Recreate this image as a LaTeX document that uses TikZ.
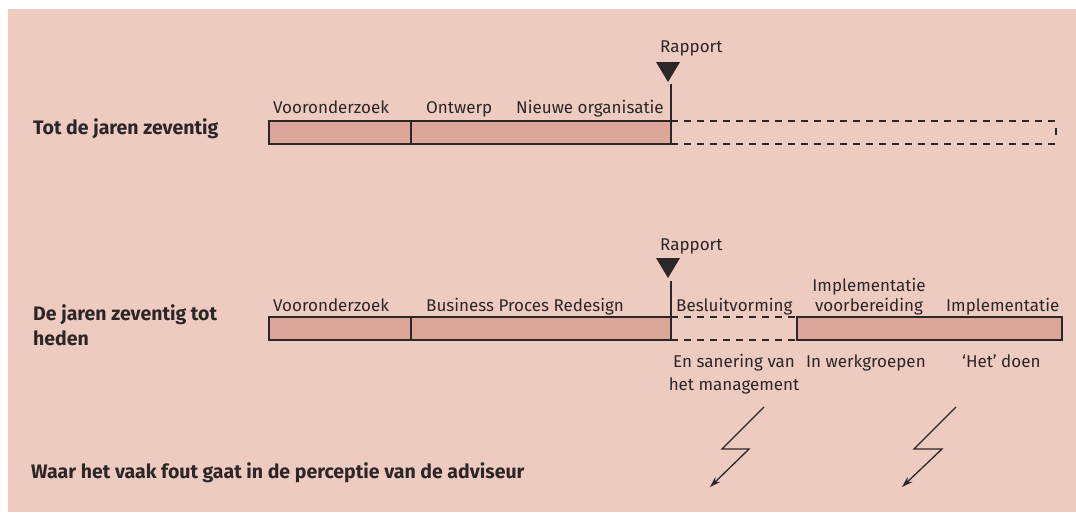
\documentclass[tikz,border=0pt]{standalone}
\usepackage{fontspec}
\setmainfont{Fira Sans}
\usetikzlibrary{arrows.meta}
\definecolor{bgpink}{RGB}{237,203,193}
\definecolor{barfill}{RGB}{220,166,155}
\definecolor{ink}{RGB}{45,38,38}
\begin{document}
\begin{tikzpicture}[x=1pt,y=-1pt,
  lbl/.style={anchor=base west, inner sep=0pt, text=ink, font=\fontsize{17}{22}\selectfont},
  clbl/.style={anchor=base, inner sep=0pt, text=ink, font=\fontsize{17}{22}\selectfont},
  head/.style={anchor=base west, inner sep=0pt, text=ink, font=\fontsize{19.5}{25}\selectfont\bfseries},
  seg/.style={draw=ink, line width=1.6pt, fill=barfill},
  dline/.style={draw=ink, line width=1.6pt, dash pattern=on 7pt off 6pt},
  rapline/.style={draw=ink, line width=1.6pt},
  raptri/.style={fill=ink},
  bolt/.style={draw=ink, line width=1.3pt, line join=miter, -{Stealth[length=11pt,width=7pt]}},
]
\useasboundingbox (0,0) rectangle (1076,520);
\fill[bgpink] (8,9) rectangle (1076,512);

% ---------- Row 1 ----------
\node[head] (h1) at (33,134.3) {Tot de jaren zeventig};
\draw[seg] (269,121) rectangle (411,144);
\draw[seg] (411,121) rectangle (671,144);
\draw[dline] (671,121) -- (1057,121);
\draw[dline] (671,144) -- (1057,144);
\draw[ink, line width=1.4pt] (1056,128) -- (1056,135);
\draw[rapline] (671,84) -- (671,144);
\fill[raptri] (656,62) -- (680,62) -- (668,82) -- cycle;
\node[lbl] (r1) at (660,52.3) {Rapport};
\node[lbl] (v1) at (273,113.3) {Vooronderzoek};
\node[lbl] (o1) at (426,113.3) {Ontwerp};
\node[lbl] (n1) at (516,113.3) {Nieuwe organisatie};

% ---------- Row 2 ----------
\node[head] (h2a) at (33,320) {De jaren zeventig tot};
\node[head] (h2b) at (33,345) {heden};
\draw[seg] (269,317) rectangle (411,340);
\draw[seg] (411,317) rectangle (671,340);
\draw[dline] (671,317) -- (797,317);
\draw[dline] (671,340) -- (797,340);
\draw[seg] (797,317) rectangle (1062,340);
\draw[rapline] (671,281) -- (671,340);
\fill[raptri] (656,258) -- (680,258) -- (668,278) -- cycle;
\node[lbl] (r2) at (660,250.7) {Rapport};
\node[lbl] (v2) at (273,311) {Vooronderzoek};
\node[lbl] (b2) at (426,311) {Business Proces Redesign};
\node[lbl] (bv) at (676,311) {Besluitvorming};
\node[clbl] (iv1) at (869,291) {Implementatie};
\node[clbl] (iv2) at (869,311) {voorbereiding};
\node[lbl] (im) at (946,311) {Implementatie};
\node[clbl] (es1) at (734,367.3) {En sanering van};
\node[clbl] (es2) at (734,390) {het management};
\node[lbl] (wg) at (806,367.3) {In werkgroepen};
\node[lbl] (hd) at (962,367.3) {‘Het’ doen};

% ---------- Bottom ----------
\node[head] (w) at (31,478.3) {Waar het vaak fout gaat in de perceptie van de adviseur};
\coordinate (b1a) at (764,407);
\coordinate (b1b) at (722,449);
\coordinate (b1c) at (749,449);
\coordinate (b1d) at (710,487);
\draw[bolt] (b1a) -- (b1b) -- (b1c) -- (b1d);
\coordinate (b2a) at (956,407);
\coordinate (b2b) at (914,449);
\coordinate (b2c) at (942,449);
\coordinate (b2d) at (902,487);
\draw[bolt] (b2a) -- (b2b) -- (b2c) -- (b2d);
\end{tikzpicture}
\end{document}
